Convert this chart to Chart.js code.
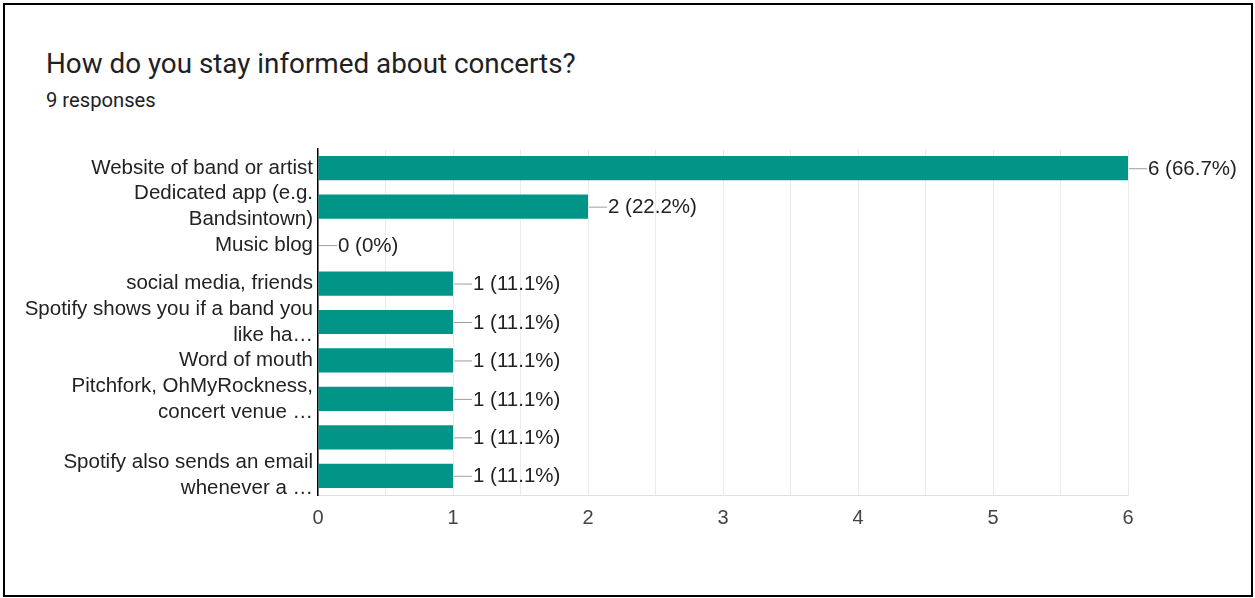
<!DOCTYPE html>
<html>
<head>
<meta charset="utf-8">
<script src="https://cdn.jsdelivr.net/npm/chart.js@4.4.1/dist/chart.umd.min.js"></script>
<style>
  body { margin: 0; background: #fff; }
  #frame { position: absolute; left: 3px; top: 3px; width: 1250px; height: 594px; box-sizing: border-box; border: 2px solid #000; }
  #title { position: absolute; left: 46px; top: 49px; font: 27.8px Roboto, sans-serif; line-height: 30px; color: #202124; }
  #sub { position: absolute; left: 46px; top: 89px; font: 20.2px Roboto, sans-serif; line-height: 22px; color: #202124; }
  #chart { position: absolute; left: 0; top: 0; }
</style>
</head>
<body>
<div id="frame"></div>
<div id="title">How do you stay informed about concerts?</div>
<div id="sub">9 responses</div>
<canvas id="chart" width="1255" height="598"></canvas>
<script>
const categories = [
  'Website of band or artist',
  ['Dedicated app (e.g.', 'Bandsintown)'],
  'Music blog',
  'social media, friends',
  ['Spotify shows you if a band you', 'like ha…'],
  'Word of mouth',
  ['Pitchfork, OhMyRockness,', 'concert venue …'],
  '',
  ['Spotify also sends an email', 'whenever a …']
];
const counts = [6, 2, 0, 1, 1, 1, 1, 1, 1];
const totalResponses = 9;
const xTicks = [0, 1, 2, 3, 4, 5, 6];

const labelFont = '"Liberation Sans", Arial, sans-serif';

// leader line + "n (pct%)" after each bar
const barLabels = {
  id: 'barLabels',
  afterDatasetsDraw(chart) {
    const ctx = chart.ctx;
    const meta = chart.getDatasetMeta(0);
    ctx.save();
    ctx.font = '20.5px ' + labelFont;
    ctx.textBaseline = 'middle';
    ctx.textAlign = 'left';
    meta.data.forEach((bar, i) => {
      const v = counts[i];
      const pct = v === 0 ? '0' : (v / totalResponses * 100).toFixed(1);
      const x = bar.x, y = bar.y;
      ctx.strokeStyle = '#9e9e9e';
      ctx.lineWidth = 1;
      ctx.beginPath();
      ctx.moveTo(x + 1, y + 0.5);
      ctx.lineTo(x + 19, y + 0.5);
      ctx.stroke();
      ctx.fillStyle = '#222';
      ctx.fillText(v + ' (' + pct + '%)', x + 20, y + 1);
    });
    ctx.restore();
  }
};

new Chart(document.getElementById('chart'), {
  type: 'bar',
  data: {
    labels: categories,
    datasets: [{
      data: counts,
      backgroundColor: '#019587',
      barPercentage: 0.63,
      categoryPercentage: 1
    }]
  },
  options: {
    indexAxis: 'y',
    responsive: false,
    animation: false,
    layout: { padding: { top: 149, right: 127, bottom: 0, left: 0 } },
    plugins: { legend: { display: false }, tooltip: { enabled: false } },
    scales: {
      x: {
        min: 0,
        max: 6,
        afterBuildTicks(scale) {
          const t = [];
          for (let v = 0; v <= 6; v += 0.5) t.push({ value: v });
          scale.ticks = t;
        },
        afterFit(scale) { scale.height = 103; },
        grid: { color: '#ebebeb', drawTicks: false },
        border: { color: '#e0e0e0' },
        ticks: {
          padding: 11,
          color: '#444',
          font: { family: labelFont, size: 20 },
          callback: v => xTicks.includes(v) ? String(v) : ''
        }
      },
      y: {
        afterFit(scale) { scale.width = 318; },
        grid: { display: false, drawTicks: false },
        border: { color: '#000', width: 1.5 },
        ticks: {
          autoSkip: false,
          padding: 5,
          color: '#222',
          font: { family: labelFont, size: 20.5, lineHeight: 1.27 }
        }
      }
    }
  },
  plugins: [barLabels]
});
</script>
</body>
</html>
